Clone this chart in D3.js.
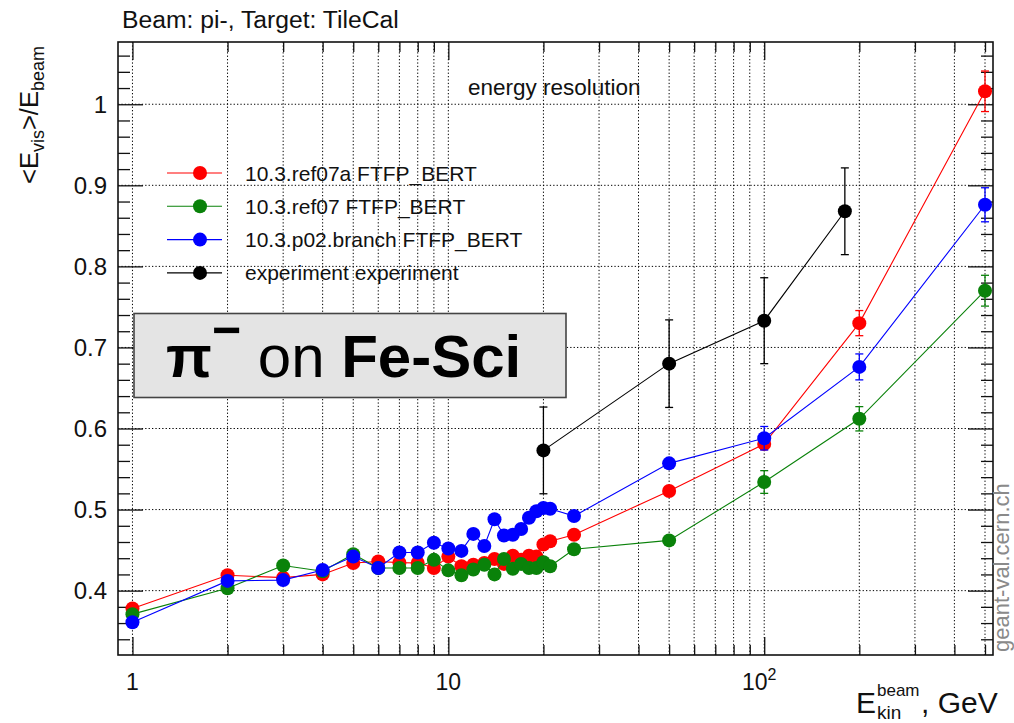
<!DOCTYPE html>
<html>
<head>
<meta charset="utf-8">
<script src="https://cdn.jsdelivr.net/npm/d3@7"></script>
<style>
  html, body { margin: 0; padding: 0; background: #fff; }
  svg { display: block; font-family: "Liberation Sans", Arial, Helvetica, sans-serif; }
</style>
</head>
<body>
<svg id="chart" width="1014" height="723"></svg>
<script>
// ---- data: mean visible energy / beam energy, pi- on TileCal ----
const energies = [1, 2, 3, 4, 5, 6, 7, 8, 9, 10, 11, 12, 13, 14, 15, 16, 17, 18, 19, 20, 21, 25, 50, 100, 200, 500];

const ref07aValues = [0.378, 0.419, 0.416, 0.420, 0.434, 0.436, 0.4345, 0.434, 0.428, 0.442, 0.430, 0.432, 0.434, 0.439, 0.433, 0.443, 0.438, 0.443, 0.442, 0.457, 0.461, 0.469, 0.523, 0.581, 0.730, 1.016];
const ref07aErrors = [0.002, 0.002, 0.002, 0.002, 0.002, 0.002, 0.002, 0.002, 0.002, 0.002, 0.002, 0.002, 0.002, 0.002, 0.002, 0.002, 0.002, 0.002, 0.002, 0.002, 0.002, 0.003, 0.005, 0.007, 0.0155, 0.025];

const ref07Values = [0.371, 0.403, 0.431, 0.424, 0.445, 0.428, 0.428, 0.428, 0.438, 0.425, 0.419, 0.426, 0.432, 0.420, 0.439, 0.427, 0.433, 0.428, 0.428, 0.435, 0.430, 0.451, 0.462, 0.534, 0.612, 0.770];
const ref07Errors = [0.002, 0.002, 0.002, 0.002, 0.002, 0.002, 0.002, 0.002, 0.002, 0.002, 0.002, 0.002, 0.002, 0.002, 0.002, 0.002, 0.002, 0.002, 0.002, 0.002, 0.002, 0.003, 0.003, 0.014, 0.015, 0.019];

const p02Values = [0.361, 0.412, 0.413, 0.4255, 0.442, 0.428, 0.447, 0.447, 0.459, 0.452, 0.449, 0.470, 0.455, 0.488, 0.468, 0.469, 0.476, 0.490, 0.498, 0.502, 0.501, 0.492, 0.557, 0.588, 0.676, 0.876];
const p02Errors = [0.002, 0.002, 0.002, 0.002, 0.002, 0.002, 0.002, 0.002, 0.002, 0.002, 0.002, 0.002, 0.002, 0.002, 0.002, 0.002, 0.002, 0.002, 0.002, 0.002, 0.002, 0.003, 0.004, 0.0145, 0.016, 0.021];

const expEnergies = [20, 50, 100, 180];
const expValues = [0.573, 0.680, 0.733, 0.868];
const expErrors = [0.0535, 0.054, 0.053, 0.0535];

const seriesNames = ["10.3.ref07a FTFP_BERT", "10.3.ref07 FTFP_BERT", "10.3.p02.branch FTFP_BERT", "experiment experiment"];
const seriesColors = ["#ff0000", "#0a820a", "#0000ff", "#000000"];

const xMajorTicks = [1, 10, 100];
const xMinorTicks = [2, 3, 4, 5, 6, 7, 8, 9, 20, 30, 40, 50, 60, 70, 80, 90, 200, 300, 400, 500];
const yMajorTicks = [0.4, 0.5, 0.6, 0.7, 0.8, 0.9, 1.0];
const yTickLabels = ["0.4", "0.5", "0.6", "0.7", "0.8", "0.9", "1"];

// ---- frame & scales ----
const frame = { left: 118, right: 993, top: 42, bottom: 655 };
const x = d3.scaleLog().domain([0.9, 530]).range([frame.left, frame.right]);
const y = d3.scaleLinear().domain([0.3206, 1.0768]).range([frame.bottom, frame.top]);

const yMinorTicks = d3.range(0.34, 1.0768, 0.02).map(v => +v.toFixed(2)).filter(v => !yMajorTicks.some(m => Math.abs(m - v) < 1e-6));

const svg = d3.select("#chart");

// ---- dotted grid ----
const grid = svg.append("g").attr("stroke", "#000").attr("stroke-width", 1).attr("stroke-dasharray", "1.3,2.1");
grid.selectAll("line.gx").data(xMajorTicks.concat(xMinorTicks)).join("line")
  .attr("x1", d => x(d)).attr("x2", d => x(d))
  .attr("y1", frame.top).attr("y2", frame.bottom);
grid.selectAll("line.gy").data(yMajorTicks).join("line")
  .attr("x1", frame.left).attr("x2", frame.right)
  .attr("y1", d => y(d)).attr("y2", d => y(d));

// ---- inward ticks on all four sides ----
function ticksGroup(axis, translate) {
  const g = svg.append("g").attr("transform", translate).call(axis);
  g.select(".domain").remove();
  g.selectAll("text").remove();
  g.selectAll("line").attr("stroke", "#111").attr("stroke-width", 1.3);
  return g;
}
ticksGroup(d3.axisBottom(x).tickValues(xMajorTicks).tickSize(-18), `translate(0,${frame.bottom})`);
ticksGroup(d3.axisBottom(x).tickValues(xMinorTicks).tickSize(-10), `translate(0,${frame.bottom})`);
ticksGroup(d3.axisTop(x).tickValues(xMajorTicks).tickSize(-18), `translate(0,${frame.top})`);
ticksGroup(d3.axisTop(x).tickValues(xMinorTicks).tickSize(-10), `translate(0,${frame.top})`);
ticksGroup(d3.axisLeft(y).tickValues(yMajorTicks).tickSize(-25), `translate(${frame.left},0)`);
ticksGroup(d3.axisLeft(y).tickValues(yMinorTicks).tickSize(-12), `translate(${frame.left},0)`);
ticksGroup(d3.axisRight(y).tickValues(yMajorTicks).tickSize(-25), `translate(${frame.right},0)`);
ticksGroup(d3.axisRight(y).tickValues(yMinorTicks).tickSize(-12), `translate(${frame.right},0)`);

// ---- frame ----
svg.append("rect")
  .attr("x", frame.left).attr("y", frame.top)
  .attr("width", frame.right - frame.left).attr("height", frame.bottom - frame.top)
  .attr("fill", "none").attr("stroke", "#111").attr("stroke-width", 1.6);

// ---- tick labels ----
svg.append("g").selectAll("text").data(yMajorTicks).join("text")
  .attr("x", 107).attr("y", d => y(d))
  .attr("text-anchor", "end").attr("dominant-baseline", "central")
  .attr("font-size", 24).attr("fill", "#111")
  .text((d, i) => yTickLabels[i]);

const xl = svg.append("g").attr("font-size", 23).attr("fill", "#111");
xl.append("text").attr("x", x(1)).attr("y", 690).attr("text-anchor", "middle").text("1");
xl.append("text").attr("x", x(10)).attr("y", 690).attr("text-anchor", "middle").text("10");
const hundred = xl.append("text").attr("x", x(100) - 5).attr("y", 690).attr("text-anchor", "middle");
hundred.append("tspan").text("10");
hundred.append("tspan").attr("font-size", 16).attr("dy", -10).text("2");

// ---- series ----
const series = [
  { values: ref07aValues, errors: ref07aErrors, xs: energies },
  { values: ref07Values, errors: ref07Errors, xs: energies },
  { values: p02Values, errors: p02Errors, xs: energies },
  { values: expValues, errors: expErrors, xs: expEnergies }
];

const line = d3.line().x(d => x(d.e)).y(d => y(d.v));
series.forEach((s, i) => {
  const pts = s.xs.map((e, k) => ({ e, v: s.values[k], err: s.errors[k] }));
  const color = seriesColors[i];
  const g = svg.append("g");
  g.append("path").datum(pts).attr("d", line)
    .attr("fill", "none").attr("stroke", color).attr("stroke-width", 1.1);
  const eb = g.append("g").attr("stroke", color).attr("stroke-width", 1.3);
  eb.selectAll("line.v").data(pts).join("line")
    .attr("x1", d => x(d.e)).attr("x2", d => x(d.e))
    .attr("y1", d => y(d.v - d.err)).attr("y2", d => y(d.v + d.err));
  eb.selectAll("line.t").data(pts).join("line")
    .attr("x1", d => x(d.e) - 4).attr("x2", d => x(d.e) + 4)
    .attr("y1", d => y(d.v + d.err)).attr("y2", d => y(d.v + d.err));
  eb.selectAll("line.b").data(pts).join("line")
    .attr("x1", d => x(d.e) - 4).attr("x2", d => x(d.e) + 4)
    .attr("y1", d => y(d.v - d.err)).attr("y2", d => y(d.v - d.err));
  g.selectAll("circle").data(pts).join("circle")
    .attr("cx", d => x(d.e)).attr("cy", d => y(d.v)).attr("r", 7)
    .attr("fill", color);
});

// ---- legend ----
const legend = svg.append("g");
seriesNames.forEach((name, i) => {
  const ly = 173 + i * 33.3;
  legend.append("line").attr("x1", 167).attr("x2", 222).attr("y1", ly).attr("y2", ly)
    .attr("stroke", seriesColors[i]).attr("stroke-width", 1.1);
  legend.append("circle").attr("cx", 200).attr("cy", ly).attr("r", 7).attr("fill", seriesColors[i]);
  legend.append("text").attr("x", 245).attr("y", ly).attr("dominant-baseline", "central")
    .attr("font-size", 21).attr("fill", "#111").text(name);
});

// ---- titles ----
svg.append("text").attr("x", 122).attr("y", 28).attr("font-size", 24.7).attr("fill", "#111")
  .text("Beam: pi-, Target: TileCal");
svg.append("text").attr("x", 468).attr("y", 95).attr("font-size", 22.5).attr("fill", "#111")
  .text("energy resolution");

// y-axis title
const yt = svg.append("text").attr("transform", "translate(38,115) rotate(-90)")
  .attr("text-anchor", "middle").attr("font-size", 25.5).attr("fill", "#111");
yt.append("tspan").text("<E");
yt.append("tspan").attr("font-size", 18).attr("dy", 6).text("vis");
yt.append("tspan").attr("dy", -6).text(">/E");
yt.append("tspan").attr("font-size", 18).attr("dy", 6).text("beam");

// x-axis title
const xt = svg.append("g").attr("fill", "#111");
xt.append("text").attr("x", 856).attr("y", 713).attr("font-size", 30).text("E");
xt.append("text").attr("x", 877).attr("y", 696).attr("font-size", 17).text("beam");
xt.append("text").attr("x", 877).attr("y", 719).attr("font-size", 19).text("kin");
xt.append("text").attr("x", 921).attr("y", 713).attr("font-size", 30).text(", GeV");

// site tag on the right edge
svg.append("text").attr("transform", "translate(1009,652) rotate(-90)")
  .attr("font-size", 22).attr("fill", "#8a8a8a").text("geant-val.cern.ch");

// ---- particle / target label box ----
svg.append("rect").attr("x", 134).attr("y", 313.5).attr("width", 432).attr("height", 84)
  .attr("fill", "#e4e4e4").attr("stroke", "#444").attr("stroke-width", 1.6);
const lbl = svg.append("text").attr("x", 166).attr("y", 377).attr("font-size", 60).attr("fill", "#000");
lbl.append("tspan").attr("font-weight", "bold").text("π");
lbl.append("tspan").attr("font-weight", "bold").attr("font-size", 50).attr("dy", -30).text("−");
lbl.append("tspan").attr("dy", 30).text(" on ");
lbl.append("tspan").attr("font-weight", "bold").text("Fe-Sci");
</script>
</body>
</html>
